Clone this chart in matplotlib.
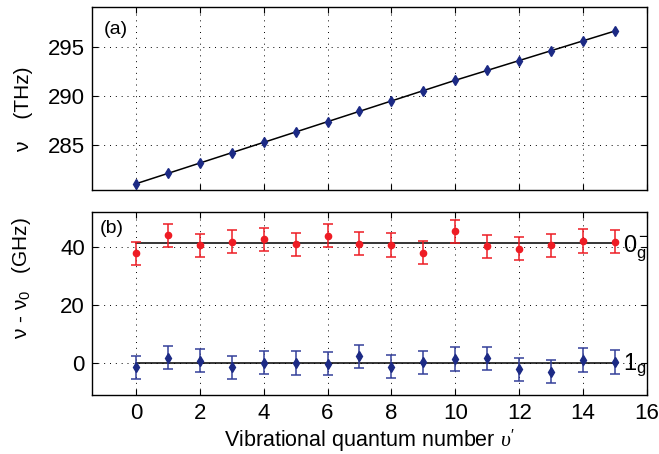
import matplotlib
matplotlib.use("Agg")
import matplotlib.pyplot as plt

plt.rcParams['font.family'] = ['Liberation Sans', 'DejaVu Sans']
plt.rcParams['mathtext.fontset'] = 'custom'
plt.rcParams['mathtext.rm'] = 'Liberation Sans'
plt.rcParams['mathtext.it'] = 'Liberation Serif:italic'
plt.rcParams['mathtext.sf'] = 'Liberation Sans'

v = [0, 1, 2, 3, 4, 5, 6, 7, 8, 9, 10, 11, 12, 13, 14, 15]
freq_thz = [281.1, 282.15, 283.2, 284.25, 285.3, 286.35, 287.4, 288.45,
            289.5, 290.55, 291.6, 292.6, 293.6, 294.6, 295.6, 296.6]
red_ghz = [37.8, 43.9, 40.5, 41.8, 42.6, 40.8, 43.8, 41.1,
           40.6, 37.9, 45.3, 40.2, 39.3, 40.5, 42.0, 41.7]
red_err = [4.0] * 16
red_mean = 41.4
blue_ghz = [-1.5, 1.8, 0.7, -1.6, 0.0, -0.1, -0.3, 2.2,
            -1.3, 0.2, 1.3, 1.5, -2.3, -3.0, 1.0, 0.3]
blue_err = [4.0] * 16
blue_mean = 0.0
xticks = [0, 2, 4, 6, 8, 10, 12, 14, 16]

navy = '#1c2a85'
red = '#ee1c24'

fig = plt.figure(figsize=(6.59, 4.54), dpi=100)
L, W = 92.4 / 659, (647 - 92.4) / 659
ax1 = fig.add_axes([L, 1 - 190 / 454, W, (190 - 7.3) / 454])
ax2 = fig.add_axes([L, 1 - 395 / 454, W, (395 - 211.7) / 454])

gridkw = dict(color='black', linestyle=(0, (1, 5)), linewidth=0.7)
xlim = (-1.36, 16)

# Top panel
ax1.plot(v, freq_thz, color='black', linewidth=1.1, zorder=2)
ax1.plot(v, freq_thz, linestyle='none', marker='d', markersize=5,
         color=navy, zorder=3)
ax1.set_xlim(*xlim)
ax1.set_ylim(280.47, 299.0)
ax1.set_yticks([285, 290, 295])
ax1.set_xticks(xticks)
ax1.tick_params(labelbottom=False)
ax1.grid(True, **gridkw)
ax1.text(0.021, 0.876, '(a)', transform=ax1.transAxes, fontsize=14,
         va='center', ha='left')
ax1.set_ylabel('ν    (THz)', fontsize=15)

# Bottom panel
ax2.plot([v[0], v[-1]], [red_mean, red_mean], color='black', linewidth=1.1, zorder=2)
ax2.plot([v[0], v[-1]], [blue_mean, blue_mean], color='black', linewidth=1.1, zorder=2)
ax2.errorbar(v, red_ghz, yerr=red_err, fmt='o', color=red, markersize=4.5,
             ecolor=red, elinewidth=1.1, capsize=3.6, capthick=1.1, zorder=3)
ax2.errorbar(v, blue_ghz, yerr=blue_err, fmt='d', color=navy, markersize=5,
             ecolor='#34409a', elinewidth=1.1, capsize=3.6, capthick=1.1, zorder=3)
ax2.set_xlim(*xlim)
ax2.set_ylim(-11.1, 52.1)
ax2.set_yticks([0, 20, 40])
ax2.set_xticks(xticks)
ax2.grid(True, **gridkw)
ax2.text(0.013, 0.911, '(b)', transform=ax2.transAxes, fontsize=14,
         va='center', ha='left')
ax2.text(15.25, 39.5, r'$\mathregular{0_g^-}$', fontsize=17, va='center', ha='left')
ax2.text(15.25, -0.8, r'$\mathregular{1_g}$', fontsize=17, va='center', ha='left')
ax2.set_ylabel(r'ν - ν$_\mathregular{0}$   (GHz)', fontsize=15)
ax2.set_xlabel(r"Vibrational quantum number $\upsilon'$", fontsize=15.5)

for ax in (ax1, ax2):
    ax.tick_params(direction='in', top=True, right=True, labelsize=16,
                   length=4, width=0.8)
    ax.tick_params(axis='y', pad=5.5)
    ax.tick_params(axis='x', pad=6.0)
    for s in ax.spines.values():
        s.set_linewidth(1.0)

ax1.yaxis.set_label_coords(-0.107, 0.443)
ax2.yaxis.set_label_coords(-0.107, 0.64)
ax2.xaxis.set_label_coords(0.5, -0.175)

fig.savefig('out.png', dpi=100)
